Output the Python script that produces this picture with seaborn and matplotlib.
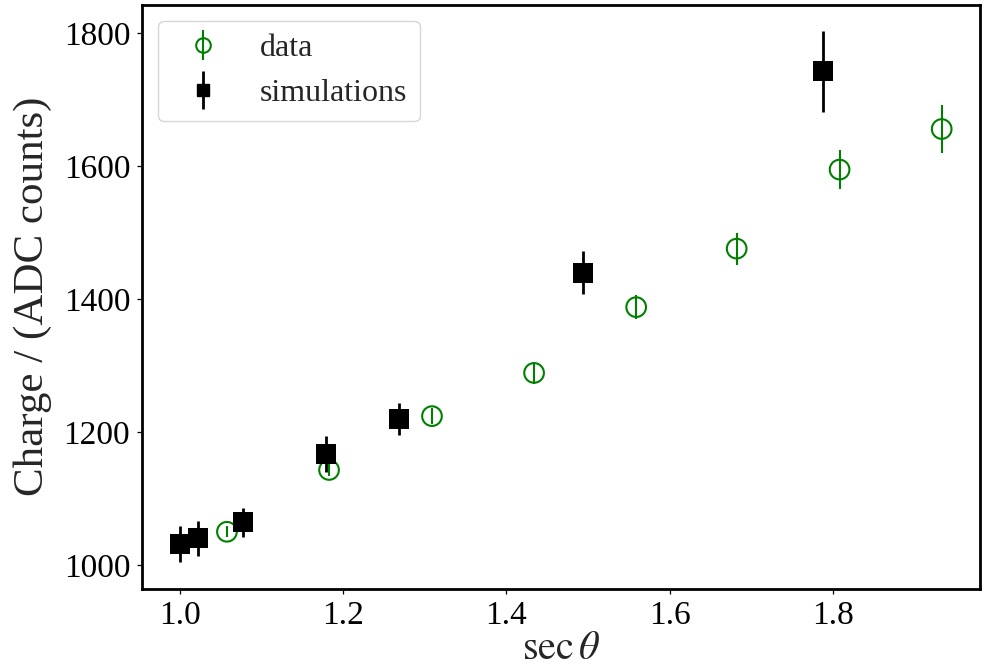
import matplotlib
matplotlib.use('Agg')
import matplotlib.pyplot as plt
from matplotlib.lines import Line2D
from matplotlib.legend_handler import HandlerTuple
import seaborn as sns

# ---- data ----
data_x = [1.058, 1.183, 1.309, 1.434, 1.559, 1.682, 1.808, 1.933]
data_y = [1050, 1143, 1224, 1289, 1388, 1476, 1595, 1656]
data_err = [8, 9, 12, 16, 18, 24, 29, 36]

sim_x = [1.000, 1.0225, 1.078, 1.179, 1.269, 1.494, 1.788]
sim_y = [1032, 1040, 1064, 1167, 1220, 1440, 1743]
sim_err = [27, 26, 22, 27, 24, 32, 61]

x_ticks = [1.0, 1.2, 1.4, 1.6, 1.8]
y_ticks = [1000, 1200, 1400, 1600, 1800]

sns.set_style('ticks')
plt.rcParams['font.family'] = ['Liberation Serif', 'DejaVu Serif']
plt.rcParams['mathtext.fontset'] = 'stix'

fig = plt.figure(figsize=(9.86, 6.69), dpi=100)
ax = fig.add_axes([0.144, 0.1203, 0.850, 0.8722])

# data: hollow green circles with error bars
ax.errorbar(data_x, data_y, yerr=data_err, fmt='none', ecolor='green',
            elinewidth=1.5, zorder=2)
sns.scatterplot(x=data_x, y=data_y, marker='o', s=200, color='green',
                linewidth=1.5, ax=ax, zorder=3, legend=False)
coll = ax.collections[-1]
coll.set_facecolor('none')
coll.set_edgecolor('green')

# simulations: black squares with error bars
ax.errorbar(sim_x, sim_y, yerr=sim_err, fmt='none', ecolor='black',
            elinewidth=2, zorder=4)
sns.scatterplot(x=sim_x, y=sim_y, marker='s', s=215, color='black',
                edgecolor='black', linewidth=0, ax=ax, zorder=5, legend=False)

ax.set_xlim(0.954, 1.980)
ax.set_ylim(964.6, 1842.6)
ax.set_xticks(x_ticks)
ax.set_xticklabels([f'{v:.1f}' for v in x_ticks])
ax.set_yticks(y_ticks)
ax.set_yticklabels([str(v) for v in y_ticks])

for sp in ax.spines.values():
    sp.set_visible(True)
    sp.set_linewidth(2.0)
    sp.set_color('black')
ax.tick_params(axis='both', labelsize=24, length=3.5, width=0.9,
               colors='black', direction='out', pad=5)

ax.set_xlabel(r'$\sec\theta$', fontsize=29, labelpad=0)
ax.set_ylabel('Charge / (ADC counts)', fontsize=31, labelpad=8)

h_data = (Line2D([], [], ls='', marker='|', ms=22, mew=1.5, color='green'),
          Line2D([], [], ls='', marker='o', ms=10.5, mfc='none', mec='green', mew=1.5))
h_sim = (Line2D([], [], ls='', marker='|', ms=27, mew=2, color='black'),
         Line2D([], [], ls='', marker='s', ms=9, color='black'))
ax.legend([h_data, h_sim], ['data', 'simulations'],
          handler_map={tuple: HandlerTuple(ndivide=1)},
          loc='upper left', fontsize=23, frameon=True, fancybox=True,
          edgecolor='0.8', framealpha=0.8)

fig.savefig('out.png', dpi=100)
